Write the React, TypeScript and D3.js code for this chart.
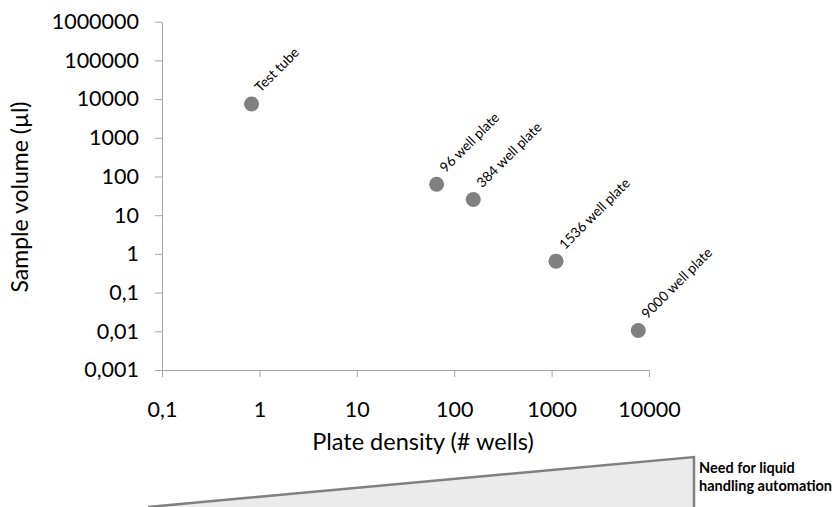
import React, { useEffect, useRef } from 'react';
import * as d3 from 'd3';

const labels = ['Test tube', '96 well plate', '384 well plate', '1536 well plate', '9000 well plate'];
const wells = [0.83, 66, 157, 1110, 7760];
const volumes = [7500, 63, 25.5, 0.65, 0.0105];

const xTicks = [0.1, 1, 10, 100, 1000, 10000];
const yTicks = [0.001, 0.01, 0.1, 1, 10, 100, 1000, 10000, 100000, 1000000];

const fmt = (v: number) => String(v).replace('.', ',');

export default function App() {
  const svgRef = useRef<SVGSVGElement>(null);

  useEffect(() => {
    document.body.style.margin = '0';
    if (!svgRef.current) return;

    const svg = d3.select(svgRef.current);
    svg.selectAll('*').remove();

    const font = 'Lato, "Open Sans", sans-serif';
    const axisColor = '#a6a6a6';

    const x = d3.scaleLog().domain([0.1, 10000]).range([162, 649]);
    const y = d3.scaleLog().domain([0.001, 1000000]).range([370, 21.7]);

    // y axis
    const gy = svg.append('g')
      .attr('transform', `translate(${x(0.1)},0)`)
      .call(d3.axisLeft(y).tickValues(yTicks).tickFormat(d => fmt(d as number)).tickSize(7).tickSizeOuter(0).tickPadding(16));
    gy.select('.domain').attr('stroke', axisColor);
    gy.selectAll('.tick line').attr('stroke', axisColor);
    gy.selectAll('.tick text')
      .attr('font-family', font)
      .attr('font-size', 21.5)
      .attr('fill', '#000');

    // x axis
    const gx = svg.append('g')
      .attr('transform', `translate(0,${y(0.001)})`)
      .call(d3.axisBottom(x).tickValues(xTicks).tickFormat(d => fmt(d as number)).tickSize(7).tickSizeOuter(0).tickPadding(25));
    gx.select('.domain').attr('stroke', axisColor);
    gx.selectAll('.tick line').attr('stroke', axisColor);
    gx.selectAll('.tick text')
      .attr('font-family', font)
      .attr('font-size', 21.5)
      .attr('fill', '#000');

    // axis titles
    svg.append('text')
      .attr('x', 423)
      .attr('y', 450)
      .attr('text-anchor', 'middle')
      .attr('font-family', font)
      .attr('font-size', 23.5)
      .text('Plate density (# wells)');

    svg.append('text')
      .attr('transform', 'translate(28,197) rotate(-90)')
      .attr('text-anchor', 'middle')
      .attr('font-family', font)
      .attr('font-size', 23)
      .text('Sample volume (µl)');

    // points
    const pts = labels.map((l, i) => ({ label: l, x: wells[i], y: volumes[i] }));

    svg.selectAll('circle.pt')
      .data(pts)
      .enter()
      .append('circle')
      .attr('class', 'pt')
      .attr('cx', d => x(d.x))
      .attr('cy', d => y(d.y))
      .attr('r', 7.5)
      .attr('fill', '#808080');

    svg.selectAll('text.pt-label')
      .data(pts)
      .enter()
      .append('text')
      .attr('class', 'pt-label')
      .attr('transform', d => `translate(${x(d.x) + 9},${y(d.y) - 11}) rotate(-45)`)
      .attr('font-family', font)
      .attr('font-size', 13.8)
      .attr('fill', '#000')
      .text(d => d.label);

    // wedge: need for automation
    svg.append('path')
      .attr('d', 'M148,507 L694,457 L694,512')
      .attr('fill', '#ebebeb')
      .attr('stroke', '#808080')
      .attr('stroke-width', 2.5);

    const note = svg.append('text')
      .attr('font-family', font)
      .attr('font-size', 14.5)
      .attr('font-weight', 'bold')
      .attr('fill', '#000');
    note.append('tspan').attr('x', 699).attr('y', 473).text('Need for liquid');
    note.append('tspan').attr('x', 699).attr('y', 491).text('handling automation');
  }, []);

  return <svg ref={svgRef} width={837} height={507} style={{ display: 'block' }} />;
}
